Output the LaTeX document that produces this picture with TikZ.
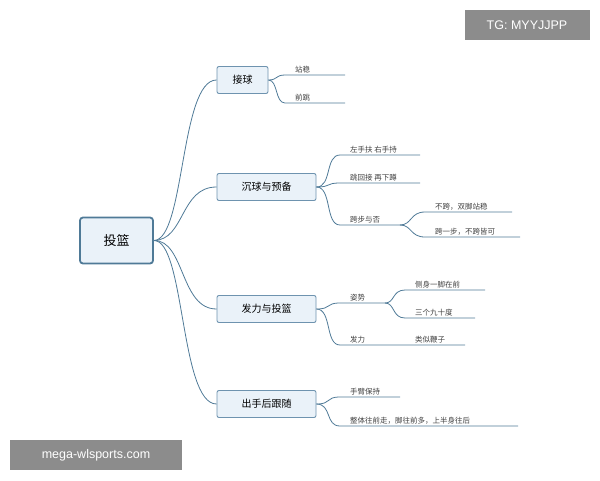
\documentclass[tikz,border=0pt]{standalone}
\usepackage{fontspec}
\setmainfont{Noto Sans CJK SC}
\newfontfamily\lat{Liberation Sans}
\definecolor{ln}{HTML}{4F7A97}
\definecolor{bd}{HTML}{6E93AF}
\definecolor{fl}{HTML}{EAF2F9}
\begin{document}
\begin{tikzpicture}[x=1pt,y=-1pt,
 br/.style={draw=bd,fill=fl,rounded corners=2pt,line width=0.9pt,minimum height=27pt,font=\fontsize{10}{12}\selectfont,inner xsep=8pt},
 lf/.style={font=\fontsize{7.5}{9}\selectfont,anchor=south west,inner sep=2pt,xshift=8pt,text=black!75},
 con/.style={draw=ln,line width=0.8pt},
 wm/.style={fill=black!45,text=white,font=\lat\fontsize{12.5}{14}\selectfont,inner sep=0pt}]
\useasboundingbox (0,0) rectangle (600,480);
\node[wm,minimum width=125pt,minimum height=30pt] (tg) at (527,25) {TG: MYYJJPP};
\node[wm,minimum width=172pt,minimum height=30pt] (mw) at (96,455) {mega-wlsports.com};
\node[draw=ln,fill=fl,rounded corners=3pt,line width=1.8pt,minimum width=73pt,minimum height=46pt,font=\fontsize{13}{15}\selectfont] (c) at (116.5,240.5) {投篮};
\node[br,minimum width=51pt] (b1) at (242.5,80) {接球};
\node[br,minimum width=99pt] (b2) at (266.5,187) {沉球与预备};
\node[br,minimum width=99pt] (b3) at (266.5,309) {发力与投篮};
\node[br,minimum width=99pt] (b4) at (266.5,404) {出手后跟随};
\foreach \b/\y in {b1/80,b2/187,b3/309,b4/404}
 \draw[con] (c.east) .. controls (185,240) and (180,\y) .. (\b.west);
\coordinate (a1) at (285,75); \coordinate (a1e) at (345,75);
\coordinate (a2) at (285,103); \coordinate (a2e) at (345,103);
\draw[con] (b1.east) .. controls (278,80) and (275,75) .. (a1) -- (a1e);
\draw[con] (b1.east) .. controls (278,80) and (275,103) .. (a2) -- (a2e);
\node[lf] (t1) at (a1) {站稳};
\node[lf] (t2) at (a2) {前跳};
\coordinate (c1) at (340,155); \coordinate (c1e) at (420,155);
\coordinate (c2) at (340,183); \coordinate (c2e) at (420,183);
\coordinate (c3) at (340,225); \coordinate (c3e) at (400,225);
\foreach \p/\q/\yy in {c1/c1e/155,c2/c2e/183,c3/c3e/225}
 \draw[con] (b2.east) .. controls (332,187) and (325,\yy) .. (\p) -- (\q);
\node[lf] (u1) at (c1) {左手扶 右手持};
\node[lf] (u2) at (c2) {跳回接 再下蹲};
\node[lf] (u3) at (c3) {跨步与否};
\coordinate (d1) at (425,212); \coordinate (d1e) at (512,212);
\coordinate (d2) at (425,237); \coordinate (d2e) at (520,237);
\draw[con] (c3e) .. controls (412,225) and (410,212) .. (d1) -- (d1e);
\draw[con] (c3e) .. controls (412,225) and (410,237) .. (d2) -- (d2e);
\node[lf] (v1) at (d1) {不跨，双脚站稳};
\node[lf] (v2) at (d2) {跨一步，不跨皆可};
\coordinate (e1) at (340,303); \coordinate (e1e) at (385,303);
\coordinate (e2) at (340,345); \coordinate (e2e) at (465,345);
\draw[con] (b3.east) .. controls (332,309) and (325,303) .. (e1) -- (e1e);
\draw[con] (b3.east) .. controls (332,309) and (325,345) .. (e2) -- (e2e);
\node[lf] (w1) at (e1) {姿势};
\node[lf] (w2) at (e2) {发力};
\node[lf] (w3) at (405,345) {类似鞭子};
\coordinate (f1) at (405,290); \coordinate (f1e) at (485,290);
\coordinate (f2) at (405,318); \coordinate (f2e) at (475,318);
\draw[con] (e1e) .. controls (395,303) and (392,290) .. (f1) -- (f1e);
\draw[con] (e1e) .. controls (395,303) and (392,318) .. (f2) -- (f2e);
\node[lf] (x1) at (f1) {侧身一脚在前};
\node[lf] (x2) at (f2) {三个九十度};
\coordinate (g1) at (340,397); \coordinate (g1e) at (400,397);
\coordinate (g2) at (340,426); \coordinate (g2e) at (518,426);
\draw[con] (b4.east) .. controls (332,404) and (325,397) .. (g1) -- (g1e);
\draw[con] (b4.east) .. controls (332,404) and (325,426) .. (g2) -- (g2e);
\node[lf] (y1) at (g1) {手臂保持};
\node[lf] (y2) at (g2) {整体往前走，脚往前多，上半身往后};
\end{tikzpicture}
\end{document}
